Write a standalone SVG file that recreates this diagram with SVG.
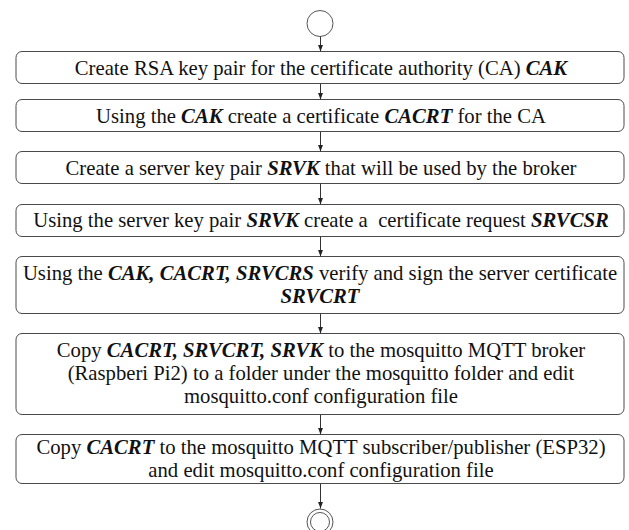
<svg xmlns="http://www.w3.org/2000/svg" width="629" height="530" viewBox="0 0 629 530">
  <defs>
    <marker id="arrow" viewBox="0 0 8 8" refX="8" refY="4" markerWidth="7" markerHeight="7" markerUnits="userSpaceOnUse" orient="auto">
      <path d="M0,1 L8,4 L0,7 Z" fill="#222"/>
    </marker>
    <style>
      .box { fill: #fff; stroke: #4a4a4a; stroke-width: 1; }
      .term { fill: #fff; stroke: #555; stroke-width: 1; }
      .lbl { font-family: "Liberation Serif", "Times New Roman", serif; font-size: 20.7px; fill: #111; text-anchor: middle; }
      .k { font-weight: bold; font-style: italic; }
      .edge { stroke: #333; stroke-width: 1; fill: none; marker-end: url(#arrow); }
    </style>
  </defs>
  <rect width="629" height="530" fill="#fff"/>

  <g id="start">
    <circle class="term" cx="320" cy="23.5" r="13"/>
  </g>

  <g id="step1">
    <rect class="box" x="16" y="51.5" width="608" height="32" rx="6"/>
    <text class="lbl" x="321" y="75">Create RSA key pair for the certificate authority (CA) <tspan class="k">CAK</tspan></text>
  </g>

  <g id="step2">
    <rect class="box" x="16" y="99.5" width="608" height="32" rx="6"/>
    <text class="lbl" x="321" y="123">Using the <tspan class="k">CAK</tspan> create a certificate <tspan class="k">CACRT</tspan> for the CA</text>
  </g>

  <g id="step3">
    <rect class="box" x="16" y="151.5" width="608" height="32" rx="6"/>
    <text class="lbl" x="321" y="175">Create a server key pair <tspan class="k">SRVK</tspan> that will be used by the broker</text>
  </g>

  <g id="step4">
    <rect class="box" x="16" y="204.5" width="608" height="32" rx="6"/>
    <text class="lbl" x="321" y="227">Using the server key pair <tspan class="k">SRVK</tspan> create a&#160; certificate request <tspan class="k">SRVCSR</tspan></text>
  </g>

  <g id="step5">
    <rect class="box" x="16" y="256.5" width="608" height="57" rx="6"/>
    <text class="lbl" x="320" y="280">Using the <tspan class="k">CAK, CACRT, SRVCRS</tspan> verify and sign the server certificate</text>
    <text class="lbl" x="320" y="303">
      <tspan class="k">SRVCRT</tspan>
    </text>
  </g>

  <g id="step6">
    <rect class="box" x="16" y="333.5" width="608" height="81" rx="6"/>
    <text class="lbl" x="321" y="357">Copy <tspan class="k">CACRT, SRVCRT, SRVK</tspan> to the mosquitto MQTT broker</text>
    <text class="lbl" x="321" y="380">(Raspberi Pi2) to a folder under the mosquitto folder and edit</text>
    <text class="lbl" x="321" y="403">mosquitto.conf configuration file</text>
  </g>

  <g id="step7">
    <rect class="box" x="16" y="434.5" width="608" height="49" rx="6"/>
    <text class="lbl" x="321" y="454">Copy <tspan class="k">CACRT</tspan> to the mosquitto MQTT subscriber/publisher (ESP32)</text>
    <text class="lbl" x="321" y="477">and edit mosquitto.conf configuration file</text>
  </g>

  <g id="end">
    <circle class="term" cx="320" cy="522" r="13"/>
    <circle class="term" cx="320" cy="522" r="9.5"/>
  </g>

  <g id="connectors">
    <line class="edge" x1="320.5" y1="36.5" x2="320.5" y2="51.5"/>
    <line class="edge" x1="320.5" y1="83.5" x2="320.5" y2="99.5"/>
    <line class="edge" x1="320.5" y1="131.5" x2="320.5" y2="151.5"/>
    <line class="edge" x1="320.5" y1="183.5" x2="320.5" y2="204.5"/>
    <line class="edge" x1="320.5" y1="236.5" x2="320.5" y2="256.5"/>
    <line class="edge" x1="320.5" y1="313.5" x2="320.5" y2="333.5"/>
    <line class="edge" x1="320.5" y1="415" x2="320.5" y2="434.5"/>
    <line class="edge" x1="320.5" y1="483.5" x2="320.5" y2="508.5"/>
  </g>
</svg>
